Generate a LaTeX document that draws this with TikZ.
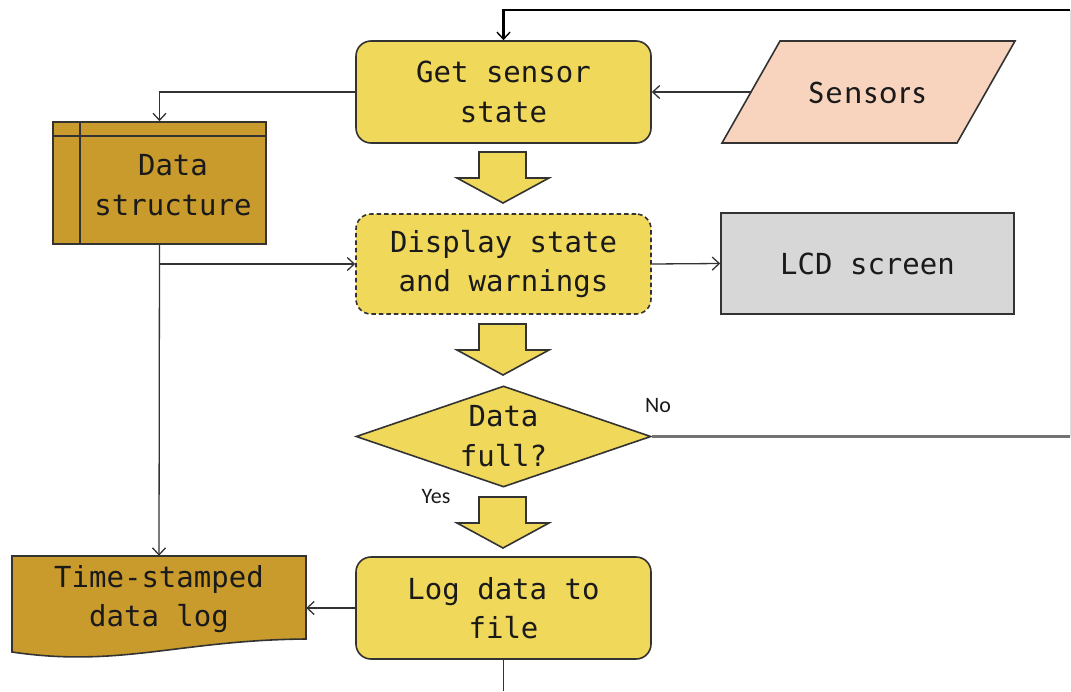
\documentclass[tikz,border=0pt]{standalone}
\usepackage{fontspec}
\usetikzlibrary{arrows.meta,shapes.geometric,calc}
\newfontfamily\monof{DejaVu Sans Mono}
\newfontfamily\calf{Carlito}
\newfontfamily\calfsp[LetterSpace=7]{Carlito}
\definecolor{boxyellow}{HTML}{F0D85A}
\definecolor{boxgold}{HTML}{C99B2D}
\definecolor{boxpink}{HTML}{F8D4BF}
\definecolor{boxgray}{HTML}{D7D7D7}
\definecolor{edge}{HTML}{333333}
\definecolor{txt}{HTML}{1A1A1A}
\newcommand\blockarrowat[1]{%
  \fill[boxyellow,draw=edge,line width=1.6pt,line join=miter]
    (479,#1) -- (526,#1) -- (526,#1+26) -- (549,#1+26) -- (503,#1+51)
    -- (457,#1+26) -- (479,#1+26) -- cycle;}
\begin{document}
\begin{tikzpicture}[x=1pt,y=-1pt,
  every node/.style={text=txt},
  mono/.style={font=\monof\fontsize{29}{39.5}\selectfont, align=center},
  procbox/.style={draw=edge, line width=1.6pt, fill=boxyellow, rounded corners=15pt,
     minimum width=295pt, minimum height=102pt, inner sep=0pt, mono},
  plainbox/.style={draw=edge, line width=1.6pt, minimum width=293pt, minimum height=101pt,
     inner sep=0pt, mono},
  conn/.style={draw=edge, line width=1.3pt, -{Straight Barb[length=7pt,width=13pt,line width=1.3pt]}},
  lbl/.style={font=\calf\fontsize{22}{26}\selectfont}]
\useasboundingbox (0,0) rectangle (1071,691);
\fill[white] (0,0) rectangle (1071,691);

% process boxes
\node[procbox] (get) at (503.5,92) {Get sensor\\state};
\node[procbox, dashed, dash pattern=on 4.5pt off 3pt, minimum height=100pt] (disp) at (503.5,264) {Display state\\and warnings};
\node[procbox] (log) at (503.5,608) {Log data to\\file};

% LCD screen
\node[plainbox, fill=boxgray] (lcd) at (867.5,263.5) {LCD screen};

% Sensors parallelogram
\fill[boxpink, draw=edge, line width=1.6pt] (780,41) -- (1015,41) -- (957,143) -- (722,143) -- cycle;
\node[font=\calfsp\fontsize{33}{40}\selectfont] (sens) at (867,93) {Sensors};
\coordinate (sensL) at (751,92);

% Data structure
\node[draw=edge, line width=1.6pt, fill=boxgold, minimum width=213pt, minimum height=122pt, inner sep=0pt] (ds) at (159.5,183) {};
\draw[edge, line width=1.5pt] (53,136) -- (266,136);
\draw[edge, line width=1.5pt] (80,122) -- (80,244);
\node[mono] (dstext) at (173,185) {Data\\structure};

% Time-stamped data log (document)
\fill[boxgold, draw=edge, line width=1.6pt] (12,556) -- (306,556) -- (306,639)
   .. controls (180,640) and (120,668) .. (12,652) -- cycle;
\node[minimum width=294pt, minimum height=83pt, inner sep=0pt] (tsl) at (159,597.5) {};
\node[mono] at (159,599) {Time-stamped\\data log};

% decision
\node[diamond, draw=edge, line width=1.6pt, fill=boxyellow, minimum width=295pt, minimum height=101pt, inner sep=0pt] (dec) at (503.5,436.5) {};
\node[mono] at (503.5,436) {Data\\full?};

% block arrows
\blockarrowat{152}
\blockarrowat{324}
\blockarrowat{497}

% connectors
\draw[conn] (sensL) -- (get.east);
\draw[conn] (get.west) -- (get.west -| ds.north) -- (ds.north);
\draw[conn] (ds.south) -- (tsl.north);
\draw[conn] (ds.south |- disp.west) -- (disp.west);
\draw[conn] (disp.east) -- (lcd.west);
\draw[conn] (log.west) -- (log.west -| tsl.east);

% loop back
\coordinate (r1) at (1070,436.5);
\coordinate (r2) at (1070,10);
\draw[gray!90!black, line width=2.2pt] (dec.east) -- (r1);
\draw[gray!25, line width=0.8pt] (r1) -- (r2);
\draw[black, line width=2.2pt, -{Straight Barb[length=7pt,width=13pt,line width=1.4pt]}] (r2) -- (r2 -| get.north) -- (get.north);
\coordinate (bot) at (503.5,691);
\draw[edge, line width=1.8pt] (log.south) -- (bot);

% labels
\node[lbl] (nolbl) at (658,406) {No};
\node[lbl] (yeslbl) at (436,497) {Yes};
\end{tikzpicture}
\end{document}
